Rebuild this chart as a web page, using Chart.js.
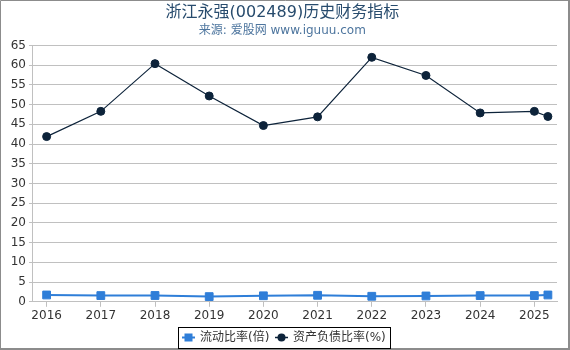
<!DOCTYPE html>
<html>
<head>
<meta charset="utf-8">
<script src="https://cdn.jsdelivr.net/npm/chart.js@4/dist/chart.umd.min.js"></script>
<style>
  html, body { margin: 0; padding: 0; background: #fff; }
  #wrap { position: relative; width: 570px; height: 350px; }
  canvas { display: block; }
</style>
</head>
<body>
<div id="wrap"><canvas id="c" width="570" height="350"></canvas></div>
<script>
// ---- data ----
const years = [2016, 2017, 2018, 2019, 2020, 2021, 2022, 2023, 2024, 2025, 2025.25];
const tickYears = [2016, 2017, 2018, 2019, 2020, 2021, 2022, 2023, 2024, 2025];
const currentRatio = [1.73, 1.58, 1.6, 1.32, 1.53, 1.65, 1.4, 1.48, 1.58, 1.58, 1.73];
const debtRatio = [41.9, 48.3, 60.4, 52.2, 44.7, 46.9, 62.0, 57.4, 47.9, 48.3, 47.0];
const seriesNames = ['流动比率(倍)', '资产负债比率(%)'];
const titleText = '浙江永强(002489)历史财务指标';
const subtitleText = '来源: 爱股网 www.iguuu.com';

const FONT = "'DejaVu Sans', 'Noto Sans CJK SC', sans-serif";
const colors = ['#2f7ed8', '#0d233a'];

const legendPlugin = {
  id: 'customLegend',
  afterDraw(chart) {
    const ctx = chart.ctx;
    ctx.save();
    // frame
    ctx.strokeStyle = '#8c8c8c';
    ctx.lineWidth = 1;
    ctx.beginPath();
    ctx.moveTo(0.5, 350); ctx.lineTo(0.5, 0.5); ctx.lineTo(570, 0.5);
    ctx.stroke();
    ctx.lineWidth = 2;
    ctx.beginPath();
    ctx.moveTo(569, 0); ctx.lineTo(569, 349); ctx.lineTo(0, 349);
    ctx.stroke();

    // legend box
    const bx = 178.5, by = 327.5, bw = 212, bh = 21;
    ctx.lineWidth = 1;
    ctx.strokeStyle = '#000';
    ctx.strokeRect(bx, by, bw, bh);
    const cy = 337.5;
    ctx.font = '12px ' + FONT;
    ctx.textBaseline = 'middle';
    ctx.textAlign = 'left';
    const meta = chart.data.datasets;
    // item 1
    let x = 182;
    ctx.strokeStyle = meta[0].borderColor;
    ctx.lineWidth = 2;
    ctx.beginPath(); ctx.moveTo(x, cy); ctx.lineTo(x + 13, cy); ctx.stroke();
    ctx.fillStyle = meta[0].borderColor;
    ctx.fillRect(x + 2.5, cy - 4, 8, 8);
    ctx.fillStyle = '#333';
    ctx.fillText(meta[0].label, 200, cy);
    // item 2
    x = 275;
    ctx.strokeStyle = meta[1].borderColor;
    ctx.lineWidth = 1.5;
    ctx.beginPath(); ctx.moveTo(x, cy); ctx.lineTo(x + 13, cy); ctx.stroke();
    ctx.fillStyle = meta[1].borderColor;
    ctx.beginPath(); ctx.arc(x + 6.5, cy, 4, 0, Math.PI * 2); ctx.fill();
    ctx.fillStyle = '#333';
    ctx.fillText(meta[1].label, 293, cy);
    ctx.restore();
  }
};

new Chart(document.getElementById('c'), {
  type: 'line',
  data: {
    datasets: [
      {
        label: seriesNames[0],
        data: years.map((y, i) => ({ x: y, y: currentRatio[i] })),
        borderColor: colors[0],
        backgroundColor: colors[0],
        borderWidth: 2,
        pointStyle: 'rect',
        pointRadius: 5.5,
        pointBorderWidth: 1,
        pointBackgroundColor: colors[0],
        pointBorderColor: colors[0],
        tension: 0
      },
      {
        label: seriesNames[1],
        data: years.map((y, i) => ({ x: y, y: debtRatio[i] })),
        borderColor: colors[1],
        backgroundColor: colors[1],
        borderWidth: 1.2,
        pointStyle: 'circle',
        pointRadius: 4,
        pointBorderWidth: 1,
        pointBackgroundColor: colors[1],
        pointBorderColor: colors[1],
        tension: 0
      }
    ]
  },
  options: {
    responsive: false,
    animation: false,
    devicePixelRatio: 1,
    layout: { padding: { left: 7.7, right: 13, top: 0, bottom: 24.8 } },
    plugins: {
      legend: { display: false },
      tooltip: { enabled: false },
      title: {
        display: true,
        text: titleText,
        color: '#274b6d',
        font: { family: FONT, size: 16, weight: 'normal' },
        padding: { top: 2.8, bottom: 1.5 }
      },
      subtitle: {
        display: true,
        text: subtitleText,
        color: '#4d759e',
        font: { family: FONT, size: 12, weight: 'normal' },
        padding: { top: 0, bottom: 7.6 }
      }
    },
    scales: {
      x: {
        type: 'linear',
        min: 2015.748,
        max: 2025.418,
        afterBuildTicks: (scale) => { scale.ticks = tickYears.map(v => ({ value: v })); },
        ticks: {
          color: '#333',
          font: { family: FONT, size: 12 },
          padding: 2,
          maxRotation: 0,
          autoSkip: false,
          callback: (v) => String(v)
        },
        grid: { display: true, drawOnChartArea: false, drawTicks: true, tickLength: 5, color: '#c0c0c0' },
        border: { display: true, color: '#c0c0c0' }
      },
      y: {
        min: 0,
        max: 65,
        ticks: {
          stepSize: 5,
          color: '#333',
          font: { family: FONT, size: 12 },
          padding: 3
        },
        grid: { color: '#c0c0c0', tickLength: 4 },
        border: { display: true, color: '#c0c0c0' }
      }
    }
  },
  plugins: [legendPlugin]
});
</script>
</body>
</html>
